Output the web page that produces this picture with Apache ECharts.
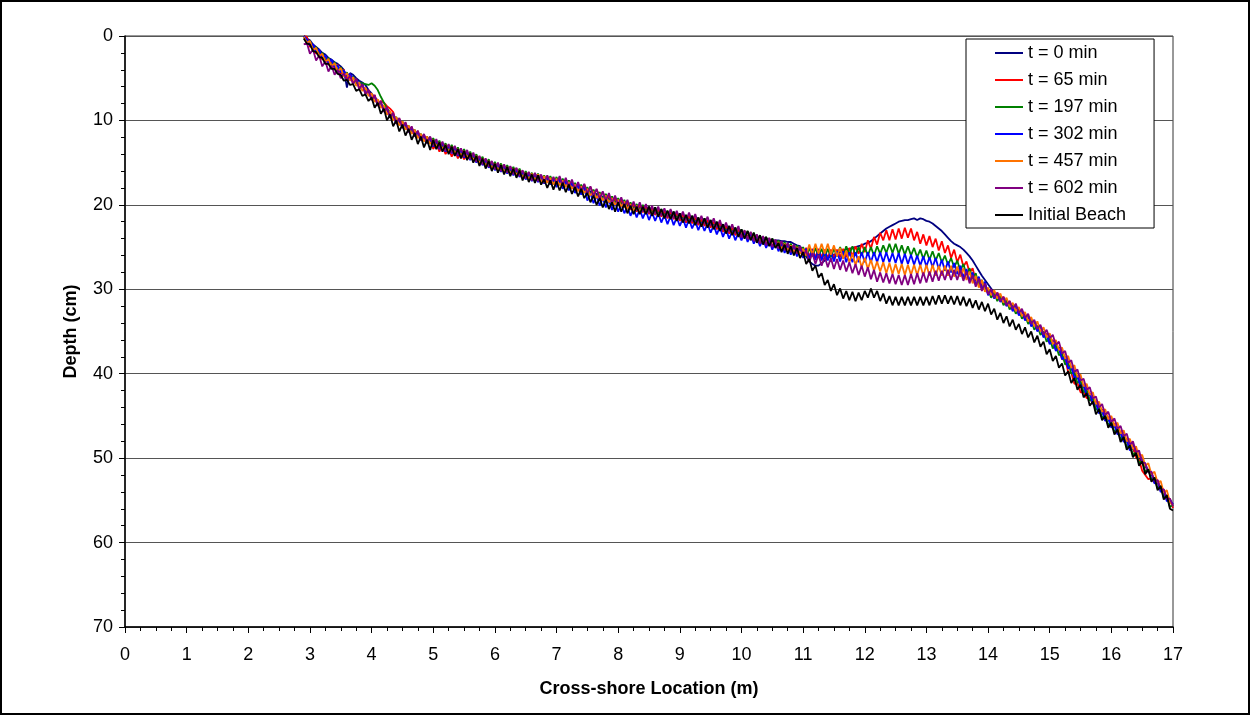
<!DOCTYPE html>
<html>
<head>
<meta charset="utf-8">
<script src="https://cdn.jsdelivr.net/npm/echarts@6/dist/echarts.min.js"></script>
<style>
  html, body { margin: 0; padding: 0; background: #fff; }
  #chart { position: absolute; left: 0; top: 0; width: 1250px; height: 715px; }
  #frame { position: absolute; left: 0; top: 0; width: 1250px; height: 715px; box-sizing: border-box; border: 2px solid #000; pointer-events: none; }
</style>
</head>
<body>
<div id="chart"></div>
<div id="frame"></div>
<script>
// Cross-shore survey stations: profiles sampled every 0.05 m from 2.90 m to 17.00 m
const firstStation = 2.90;
const stationSpacing = 0.05;
const stationCount = 283;

const seriesNames = ['t = 0 min', 't = 65 min', 't = 197 min', 't = 302 min', 't = 457 min', 't = 602 min', 'Initial Beach'];
const seriesColors = ['#000080', '#ff0000', '#008000', '#0000ff', '#ff7300', '#800080', '#000000'];

const xTicks = [0, 17, 1];   // min, max, step (m)
const yTicks = [0, 70, 10];  // min, max, step (cm)

// Depth (cm) at each station. Rows: 2.90-3.95, then one row per metre, 11.00, bar zone 11.05-13.95, 14.00-17.00
const depthT0 = [
  0.0, 0.3, 0.5, 1.0, 1.3, 1.6, 2.0, 2.2, 2.6, 2.8, 3.1, 3.3, 3.6, 4.0, 6.1, 4.4, 4.6, 5.0, 5.3, 5.5, 5.8, 6.4,
  6.8, 7.3, 7.6, 8.1, 8.4, 8.8, 9.2, 9.5, 9.9, 10.1, 10.5, 10.6, 11.0, 11.1, 11.5, 11.6, 12.0, 12.0, 12.3, 12.3,
  12.7, 12.6, 13.0, 12.9, 13.3, 13.2, 13.5, 13.4, 13.8, 13.7, 14.0, 13.9, 14.3, 14.2, 14.6, 14.6, 14.9, 14.9, 15.2, 15.2,
  15.5, 15.4, 15.7, 15.6, 15.9, 15.8, 16.1, 16.0, 16.3, 16.3, 16.6, 16.5, 16.8, 16.6, 16.9, 16.8, 17.1, 16.9, 17.2, 17.1,
  17.3, 17.2, 17.5, 17.4, 17.7, 17.6, 18.0, 17.9, 18.2, 18.1, 18.5, 18.4, 18.8, 18.7, 19.1, 19.0, 19.3, 19.2, 19.6, 19.5,
  19.8, 19.7, 20.0, 20.0, 20.3, 20.2, 20.5, 20.3, 20.6, 20.5, 20.8, 20.7, 20.9, 20.8, 21.1, 21.0, 21.3, 21.1, 21.4, 21.3,
  21.6, 21.5, 21.8, 21.6, 21.9, 21.8, 22.1, 22.0, 22.2, 22.1, 22.4, 22.3, 22.6, 22.5, 22.9, 22.8, 23.1, 23.0, 23.3, 23.2,
  23.5, 23.4, 23.6, 23.6, 23.8, 23.8, 23.9, 23.9, 24.0, 24.1, 24.2, 24.2, 24.2, 24.3, 24.3, 24.4, 24.4, 24.6, 24.8, 24.9,
  25.5,
  26.1, 26.7, 27.0, 27.2, 27.2, 26.9, 26.6, 26.3, 26.1, 25.9, 25.8, 25.6, 25.4, 25.3, 25.2, 25.1, 25.0, 24.9, 24.8, 24.6,
  24.5, 24.3, 24.0, 23.7, 23.4, 23.1, 22.8, 22.6, 22.4, 22.2, 22.0, 21.9, 21.8, 21.8, 21.7, 21.6, 21.8, 21.6, 21.7, 21.9,
  22.0, 22.2, 22.5, 22.8, 23.1, 23.5, 23.9, 24.3, 24.6, 24.8, 25.0, 25.3, 25.7, 26.1, 26.6, 27.2, 27.8, 28.4, 28.9,
  29.4, 29.9, 30.4, 30.7, 31.1, 31.2, 31.6, 31.7, 32.2, 32.2, 32.7, 32.8, 33.3, 33.4, 34.0, 34.1, 34.6, 34.7, 35.3, 35.5,
  36.1, 36.3, 36.9, 37.1, 37.9, 38.2, 39.0, 39.3, 40.1, 40.4, 41.1, 41.5, 42.2, 42.5, 43.2, 43.6, 44.3, 44.5, 45.2, 45.4,
  46.0, 46.2, 46.8, 47.1, 47.7, 48.0, 48.7, 48.9, 49.6, 49.9, 50.6, 50.9, 51.6, 51.9, 52.6, 52.9, 53.6, 54.0, 54.7, 55.1,
  55.5
];

const depthT65 = [
  0.0, 0.1, 1.3, 1.0, 2.1, 1.7, 2.8, 2.4, 3.4, 2.9, 3.9, 3.4, 4.5, 4.0, 5.1, 4.5, 5.6, 5.1, 6.2, 5.7, 6.8, 6.4,
  7.5, 7.0, 8.2, 7.7, 7.9, 8.3, 8.6, 9.0, 10.3, 9.8, 10.8, 10.3, 11.3, 10.8, 11.8, 11.3, 12.3, 11.7, 12.6, 12.0,
  13.4, 12.7, 13.7, 13.0, 14.0, 13.3, 14.3, 13.5, 14.5, 13.8, 14.6, 14.0, 14.6, 14.0, 14.9, 14.3, 15.2, 14.6, 15.5, 14.9,
  15.8, 15.1, 16.0, 15.3, 16.2, 15.5, 16.4, 15.7, 16.6, 16.0, 16.9, 16.2, 17.1, 16.3, 17.2, 16.5, 17.4, 16.6, 17.5, 16.8,
  17.6, 16.9, 17.8, 17.1, 18.0, 17.3, 18.3, 17.6, 18.4, 17.6, 18.4, 17.9, 18.7, 18.2, 19.0, 18.5, 19.4, 18.9, 19.9, 19.2,
  20.1, 19.4, 20.3, 19.7, 20.6, 19.9, 20.8, 20.0, 20.9, 20.2, 21.1, 20.4, 21.2, 20.5, 21.4, 20.7, 21.6, 20.8, 21.7, 21.0,
  21.9, 21.1, 22.1, 21.3, 22.2, 21.5, 22.4, 21.7, 22.5, 21.8, 22.7, 22.0, 22.9, 22.2, 23.2, 22.5, 23.4, 22.7, 23.6, 22.9,
  23.8, 23.1, 24.0, 23.3, 24.2, 23.6, 24.5, 23.8, 24.7, 24.0, 24.9, 24.2, 25.1, 24.4, 25.3, 24.6, 25.5, 24.8, 25.7, 25.0,
  25.9,
  25.1, 26.1, 25.2, 26.2, 25.2, 26.2, 25.3, 26.3, 25.3, 26.3, 25.3, 26.2, 25.2, 26.2, 25.1, 26.1, 24.9, 25.8, 24.6, 25.6,
  24.2, 25.2, 23.8, 24.7, 23.3, 24.2, 23.0, 24.2, 22.9, 24.1, 22.8, 24.0, 22.7, 23.9, 22.8, 24.2, 23.2, 24.6, 23.5, 24.8,
  23.7, 25.0, 24.0, 25.4, 24.3, 25.7, 24.8, 26.3, 25.3, 26.8, 25.9, 27.3, 26.7, 28.0, 27.5, 29.0, 28.6, 29.7, 29.3,
  30.6, 30.0, 31.0, 30.4, 31.4, 30.9, 31.9, 31.4, 32.5, 31.9, 33.0, 32.5, 33.6, 33.1, 34.3, 33.8, 34.9, 34.4, 35.6, 35.2,
  36.4, 36.0, 37.2, 36.9, 38.3, 38.2, 39.8, 39.9, 41.2, 41.1, 42.2, 42.2, 42.9, 42.9, 43.5, 43.3, 44.6, 44.2, 45.5, 45.1,
  46.3, 45.9, 47.1, 46.8, 48.0, 47.7, 49.0, 48.6, 49.9, 50.2, 51.5, 52.0, 52.5, 52.4, 52.9, 52.6, 53.9, 53.7, 55.0, 54.8,
  55.9
];

const depthT197 = [
  0.0, 0.7, 0.6, 1.6, 1.3, 2.3, 2.0, 3.0, 2.6, 3.5, 3.1, 4.1, 3.7, 4.7, 4.3, 5.2, 4.8, 5.6, 5.5, 5.6, 5.7, 5.8,
  5.6, 5.9, 6.4, 7.2, 7.9, 8.6, 9.0, 9.9, 9.6, 10.5, 10.1, 11.0, 10.6, 11.5, 11.1, 12.0, 11.6, 12.4, 11.9, 12.7,
  12.1, 13.0, 12.4, 13.3, 12.7, 13.6, 12.9, 13.8, 13.2, 14.1, 13.4, 14.3, 13.7, 14.6, 14.0, 15.0, 14.3, 15.3, 14.6, 15.6,
  14.9, 15.8, 15.1, 16.0, 15.3, 16.2, 15.5, 16.4, 15.7, 16.7, 16.0, 16.9, 16.2, 17.0, 16.3, 17.2, 16.5, 17.3, 16.6, 17.5,
  16.7, 17.6, 16.9, 17.8, 17.1, 18.0, 17.4, 18.3, 17.6, 18.5, 17.9, 18.8, 18.2, 19.1, 18.5, 19.4, 18.7, 19.6, 19.0, 19.9,
  19.2, 20.1, 19.4, 20.4, 19.7, 20.6, 19.9, 20.7, 20.0, 20.9, 20.2, 21.1, 20.3, 21.2, 20.5, 21.4, 20.7, 21.5, 20.8, 21.7,
  21.0, 21.9, 21.2, 22.0, 21.3, 22.2, 21.5, 22.4, 21.6, 22.5, 21.8, 22.7, 22.0, 22.9, 22.3, 23.2, 22.5, 23.4, 22.7, 23.6,
  22.9, 23.8, 23.1, 24.0, 23.3, 24.3, 23.6, 24.5, 23.8, 24.7, 24.0, 24.9, 24.2, 25.1, 24.4, 25.3, 24.6, 25.5, 24.8, 25.7,
  25.0,
  26.1, 25.1, 26.1, 25.1, 26.1, 25.2, 26.2, 25.2, 26.2, 25.2, 26.1, 25.0, 26.0, 24.9, 25.9, 24.9, 26.0, 25.0, 26.0, 25.0,
  26.0, 25.0, 26.0, 24.9, 25.8, 24.8, 25.7, 24.6, 25.7, 24.6, 25.8, 24.8, 25.9, 24.9, 26.0, 25.1, 26.2, 25.3, 26.4, 25.4,
  26.5, 25.5, 26.6, 25.7, 26.8, 26.0, 27.1, 26.3, 27.4, 26.6, 27.8, 27.0, 28.3, 27.5, 28.8, 28.1, 29.5, 28.9, 30.0,
  30.0, 31.0, 30.4, 31.4, 30.8, 31.9, 31.3, 32.4, 31.9, 32.9, 32.4, 33.5, 33.0, 34.1, 33.7, 34.8, 34.3, 35.4, 35.0, 36.2,
  35.8, 37.0, 36.6, 37.8, 37.6, 38.9, 38.7, 40.0, 39.8, 41.1, 40.8, 42.2, 41.9, 43.2, 42.9, 44.3, 44.0, 45.2, 44.9, 46.1,
  45.7, 46.9, 46.5, 47.8, 47.4, 48.7, 48.4, 49.6, 49.3, 50.6, 50.3, 51.6, 51.3, 52.6, 52.3, 53.6, 53.3, 54.7, 54.4, 55.8,
  55.5
];

const depthT302 = [
  0.0, 0.4, 1.1, 1.0, 1.9, 1.6, 2.6, 2.3, 3.2, 2.8, 3.7, 3.5, 4.3, 4.1, 4.7, 4.5, 5.1, 5.2, 5.6, 5.8, 6.5, 6.6,
  7.4, 7.2, 8.2, 7.9, 8.9, 8.6, 9.6, 9.3, 10.4, 9.9, 10.9, 10.4, 11.4, 10.9, 11.9, 11.4, 12.4, 11.8, 12.7, 12.1,
  13.1, 12.4, 13.4, 12.7, 13.7, 13.0, 13.9, 13.2, 14.2, 13.5, 14.4, 13.7, 14.7, 14.0, 15.0, 14.4, 15.3, 14.7, 15.6, 15.0,
  15.9, 15.2, 16.1, 15.4, 16.3, 15.6, 16.5, 15.8, 16.7, 16.1, 17.0, 16.3, 17.2, 16.4, 17.3, 16.6, 17.5, 16.7, 17.6, 16.9,
  17.9, 17.0, 18.1, 17.2, 18.3, 17.4, 18.6, 17.7, 18.8, 17.9, 19.5, 18.6, 19.8, 18.9, 20.1, 19.2, 20.3, 19.4, 20.6, 19.7,
  20.8, 19.9, 21.0, 20.2, 21.3, 20.4, 21.5, 20.5, 21.6, 20.7, 21.8, 20.9, 21.9, 21.0, 22.1, 21.2, 22.3, 21.3, 22.4, 21.5,
  22.5, 21.6, 22.7, 21.7, 22.8, 21.9, 23.0, 22.1, 23.1, 22.2, 23.3, 22.4, 23.5, 22.6, 23.8, 22.9, 24.0, 23.1, 24.2, 23.3,
  24.2, 23.3, 24.4, 23.5, 24.6, 23.8, 24.9, 24.0, 25.1, 24.2, 25.3, 24.4, 25.5, 24.6, 25.7, 24.8, 25.9, 25.0, 26.1, 25.2,
  26.3,
  25.2, 26.4, 25.3, 26.5, 25.3, 26.6, 25.4, 26.6, 25.5, 26.7, 25.5, 26.7, 25.5, 26.8, 25.6, 26.8, 25.6, 26.8, 25.6, 26.8,
  25.6, 26.8, 25.6, 26.8, 25.6, 26.8, 25.6, 26.8, 25.7, 26.9, 25.7, 27.0, 25.8, 27.0, 25.9, 27.1, 26.0, 27.2, 26.1, 27.3,
  26.2, 27.4, 26.3, 27.6, 26.5, 27.8, 26.7, 28.0, 26.9, 28.2, 27.2, 28.6, 27.6, 29.0, 28.0, 29.5, 28.5, 30.0, 29.1,
  30.7, 30.1, 31.1, 30.5, 31.5, 31.0, 32.0, 31.5, 32.6, 32.0, 33.1, 32.6, 33.7, 33.2, 34.4, 33.9, 35.0, 34.5, 35.7, 35.3,
  36.5, 36.1, 37.3, 36.9, 38.3, 38.0, 39.4, 39.1, 40.5, 40.2, 41.5, 41.3, 42.6, 42.3, 43.6, 43.4, 44.7, 44.3, 45.6, 45.2,
  46.4, 46.0, 47.2, 46.9, 48.1, 47.8, 49.1, 48.3, 49.1, 49.6, 50.2, 50.7, 51.6, 51.7, 53.0, 52.7, 54.0, 53.8, 55.1, 54.9,
  55.5
];

const depthT457 = [
  0.1, 0.8, 0.6, 1.7, 1.4, 2.4, 2.1, 3.1, 2.7, 3.6, 3.2, 4.2, 3.8, 4.8, 4.4, 5.3, 4.9, 5.9, 5.5, 6.5, 6.1, 7.1,
  6.8, 7.8, 7.5, 8.5, 8.2, 9.3, 8.9, 10.0, 9.6, 10.6, 10.1, 11.1, 10.6, 11.6, 11.1, 12.1, 11.6, 12.5, 11.9, 12.8,
  12.3, 13.1, 12.6, 13.4, 12.9, 13.7, 13.1, 13.9, 13.4, 14.2, 13.6, 14.4, 13.9, 14.7, 14.2, 15.1, 14.5, 15.4, 14.8, 15.7,
  15.1, 15.9, 15.3, 16.1, 15.5, 16.3, 15.7, 16.5, 15.9, 16.8, 16.2, 17.0, 16.3, 17.1, 16.4, 17.3, 16.6, 17.4, 16.8, 17.6,
  16.9, 17.7, 17.1, 17.9, 17.3, 18.1, 17.6, 18.4, 17.8, 18.6, 18.1, 18.9, 18.4, 19.2, 18.7, 19.5, 18.9, 19.7, 19.2, 20.0,
  19.4, 20.2, 19.6, 20.5, 19.9, 20.7, 20.1, 20.8, 20.2, 21.0, 20.4, 21.2, 20.5, 21.3, 20.7, 21.5, 20.9, 21.6, 21.0, 21.8,
  21.2, 22.0, 21.4, 22.1, 21.5, 22.3, 21.7, 22.5, 21.8, 22.6, 22.0, 22.8, 22.2, 23.0, 22.5, 23.3, 22.7, 23.5, 22.9, 23.7,
  23.1, 23.9, 23.3, 24.1, 23.5, 24.4, 23.8, 24.6, 24.0, 24.8, 24.2, 25.0, 24.4, 25.2, 24.6, 25.4, 24.8, 25.6, 25.0, 25.8,
  25.2,
  26.0, 24.7, 25.9, 24.6, 25.8, 24.6, 25.8, 24.6, 25.9, 24.8, 26.1, 25.1, 26.4, 25.4, 26.8, 25.8, 27.1, 26.1, 27.4, 26.3,
  27.6, 26.5, 27.8, 26.7, 27.9, 26.8, 28.1, 26.9, 28.2, 27.0, 28.2, 27.0, 28.3, 27.1, 28.3, 27.1, 28.3, 27.1, 28.4, 27.1,
  28.4, 27.1, 28.4, 27.2, 28.4, 27.2, 28.4, 27.2, 28.5, 27.3, 28.5, 27.5, 28.9, 27.9, 29.3, 28.4, 29.8, 28.9, 30.3,
  29.8, 30.7, 30.1, 31.1, 30.5, 31.6, 31.0, 32.1, 31.6, 32.6, 32.1, 33.2, 32.7, 33.8, 33.3, 34.4, 33.8, 35.0, 34.5, 35.7,
  35.2, 36.5, 36.0, 37.2, 36.9, 38.2, 37.9, 39.3, 39.0, 40.4, 40.1, 41.5, 41.2, 42.5, 42.2, 43.6, 43.3, 44.5, 44.2, 45.4,
  45.0, 46.2, 45.8, 47.1, 46.7, 48.0, 47.7, 48.9, 48.6, 49.9, 49.6, 50.9, 50.6, 51.9, 51.6, 52.9, 52.7, 54.1, 53.8, 55.2,
  55.6
];

const depthT602 = [
  1.0, 0.8, 2.1, 1.6, 2.9, 2.3, 3.6, 3.0, 4.2, 3.5, 4.6, 4.0, 5.0, 4.4, 5.3, 4.7, 5.7, 5.1, 6.3, 5.7, 6.9, 6.4,
  7.6, 7.0, 8.3, 7.7, 9.0, 8.4, 9.7, 9.1, 10.4, 9.7, 10.9, 10.2, 11.4, 10.7, 11.9, 11.2, 12.4, 11.6, 12.7, 11.9,
  13.0, 12.2, 13.3, 12.5, 13.6, 12.8, 13.8, 13.0, 14.1, 13.3, 14.3, 13.5, 14.6, 13.8, 14.9, 14.2, 15.2, 14.5, 15.5, 14.8,
  15.8, 15.0, 16.0, 15.2, 16.2, 15.4, 16.4, 15.6, 16.6, 15.9, 16.9, 16.1, 17.1, 16.2, 17.2, 16.4, 17.4, 16.5, 17.5, 16.7,
  17.5, 16.6, 17.7, 16.8, 17.9, 17.0, 18.2, 17.3, 18.4, 17.5, 18.7, 17.8, 19.0, 18.1, 19.3, 18.4, 19.5, 18.6, 19.8, 18.9,
  20.0, 19.1, 20.2, 19.4, 20.5, 19.6, 20.7, 19.7, 20.8, 19.9, 21.0, 20.1, 21.1, 20.2, 21.3, 20.4, 21.5, 20.5, 21.6, 20.7,
  21.7, 20.8, 21.9, 20.9, 22.0, 21.1, 22.2, 21.3, 22.3, 21.4, 22.5, 21.6, 22.7, 21.8, 23.0, 22.1, 23.2, 22.3, 23.4, 22.5,
  23.9, 23.0, 24.1, 23.2, 24.3, 23.5, 24.6, 23.7, 24.8, 23.9, 25.0, 24.1, 25.2, 24.3, 25.4, 24.5, 25.6, 24.7, 25.8, 24.9,
  26.0,
  25.4, 26.8, 25.7, 27.0, 25.9, 27.2, 26.1, 27.4, 26.3, 27.6, 26.4, 27.7, 26.6, 27.9, 26.8, 28.1, 27.0, 28.3, 27.2, 28.5,
  27.4, 28.8, 27.7, 29.1, 28.0, 29.2, 28.1, 29.3, 28.2, 29.4, 28.3, 29.5, 28.3, 29.5, 28.2, 29.4, 28.1, 29.3, 28.0, 29.2,
  27.9, 29.1, 27.8, 29.0, 27.8, 28.9, 27.7, 28.9, 27.7, 28.9, 27.7, 29.0, 27.9, 29.3, 28.3, 29.7, 28.7, 30.2, 29.3,
  30.6, 30.0, 31.0, 30.4, 31.4, 30.9, 31.9, 31.4, 32.3, 31.7, 32.8, 32.3, 33.4, 32.9, 34.1, 33.6, 34.7, 34.2, 35.4, 34.8,
  35.8, 35.4, 36.6, 36.2, 37.6, 37.3, 38.7, 38.4, 39.8, 39.5, 40.8, 40.6, 41.9, 41.6, 42.9, 42.7, 44.0, 43.6, 44.9, 44.5,
  45.7, 45.3, 46.5, 46.2, 47.4, 47.1, 48.4, 48.0, 49.3, 49.1, 50.5, 50.6, 51.7, 51.6, 52.7, 52.6, 53.7, 53.7, 54.8, 54.8,
  55.7
];

const depthInitial = [
  0.3, 0.9, 1.0, 1.8, 1.9, 2.5, 2.6, 3.3, 3.3, 3.9, 3.9, 4.5, 4.6, 5.3, 5.2, 5.8, 5.7, 6.5, 6.3, 7.1, 6.9, 7.7,
  7.3, 8.5, 7.9, 9.2, 8.6, 10.0, 9.3, 10.7, 10.0, 11.3, 10.5, 11.8, 11.0, 12.3, 11.5, 12.8, 11.9, 13.2, 12.3, 13.5,
  12.3, 13.4, 12.6, 13.7, 12.9, 14.0, 13.1, 14.2, 13.4, 14.5, 13.6, 14.7, 13.9, 15.0, 14.2, 15.4, 14.5, 15.7, 14.8, 16.0,
  15.1, 16.2, 15.3, 16.4, 15.5, 16.6, 15.7, 16.8, 15.9, 17.1, 16.2, 17.3, 16.4, 17.4, 16.5, 17.6, 17.0, 18.0, 17.1, 18.2,
  17.2, 18.3, 17.4, 18.5, 17.6, 18.7, 17.9, 19.0, 18.1, 19.2, 18.6, 19.7, 18.9, 20.0, 19.2, 20.3, 19.4, 20.5, 19.7, 20.8,
  19.7, 20.8, 19.9, 21.0, 20.1, 21.1, 20.2, 21.1, 20.2, 21.1, 20.2, 21.3, 20.3, 21.4, 20.5, 21.6, 20.7, 21.7, 20.8, 21.9,
  21.0, 22.1, 21.2, 22.2, 21.3, 22.4, 21.5, 22.6, 21.6, 22.7, 21.8, 22.9, 22.0, 23.1, 22.3, 23.4, 22.5, 23.6, 22.7, 23.8,
  22.9, 24.0, 23.1, 24.2, 23.3, 24.5, 23.6, 24.7, 23.8, 24.9, 24.0, 25.1, 24.5, 25.6, 24.7, 25.8, 24.9, 26.0, 25.1, 26.3,
  25.6,
  27.0, 26.4, 27.8, 27.2, 28.6, 28.1, 29.5, 28.9, 30.2, 29.4, 30.7, 29.9, 31.1, 30.2, 31.3, 30.3, 31.4, 30.4, 31.3, 30.2,
  31.0, 29.9, 31.0, 30.2, 31.4, 30.5, 31.7, 30.8, 31.9, 30.9, 31.9, 30.9, 31.9, 30.9, 31.9, 30.9, 31.9, 30.9, 31.9, 30.9,
  31.9, 30.8, 31.8, 30.7, 31.7, 30.7, 31.7, 30.8, 31.8, 30.8, 31.9, 30.9, 32.0, 31.1, 32.2, 31.3, 32.4, 31.5, 32.6,
  31.7, 33.0, 32.3, 33.6, 32.8, 34.0, 33.2, 34.4, 33.6, 34.8, 34.1, 35.3, 34.5, 35.7, 35.0, 36.3, 35.5, 36.8, 36.2, 37.7,
  37.1, 38.5, 37.9, 39.3, 38.8, 40.2, 39.7, 41.1, 40.5, 41.9, 41.3, 42.8, 42.3, 43.8, 43.3, 44.8, 44.2, 45.5, 45.0, 46.4,
  45.8, 47.2, 46.6, 48.1, 47.5, 49.0, 48.5, 49.9, 49.4, 50.9, 50.4, 51.9, 51.3, 52.8, 52.3, 53.8, 53.3, 54.9, 54.4, 56.0,
  56.2
];

const profiles = [depthT0, depthT65, depthT197, depthT302, depthT457, depthT602, depthInitial];

const FONT = "'Liberation Sans', Arial, Helvetica, sans-serif";

function toPoints(depths) {
  return depths.map((d, i) => [Math.round((firstStation + i * stationSpacing) * 100) / 100, d]);
}

const chart = echarts.init(document.getElementById('chart'), null, { renderer: 'canvas' });

chart.setOption({
  animation: false,
  backgroundColor: '#ffffff',
  textStyle: { fontFamily: FONT },
  grid: {
    left: 125, top: 36, width: 1048, height: 591,
    show: true, borderColor: '#333333', borderWidth: 1, backgroundColor: 'transparent'
  },
  legend: {
    orient: 'vertical',
    left: 966, top: 39,
    padding: [5, 28, 4, 29],
    icon: 'rect',
    itemWidth: 28, itemHeight: 2, itemGap: 9,
    backgroundColor: '#ffffff',
    borderColor: '#000000', borderWidth: 1, borderRadius: 0,
    textStyle: { fontFamily: FONT, fontSize: 18, color: '#000000' },
    data: seriesNames
  },
  xAxis: {
    type: 'value',
    min: xTicks[0], max: xTicks[1], interval: xTicks[2],
    name: 'Cross-shore Location (m)',
    nameLocation: 'middle', nameGap: 53,
    nameTextStyle: { fontFamily: FONT, fontSize: 18, fontWeight: 'bold', color: '#000000' },
    axisLine: { show: true, onZero: false, lineStyle: { color: '#000000', width: 1.5 } },
    axisTick: { show: true, length: 6, lineStyle: { color: '#000000', width: 1 } },
    minorTick: { show: true, splitNumber: 4, length: 4, lineStyle: { color: '#000000', width: 1 } },
    axisLabel: { margin: 19, fontFamily: FONT, fontSize: 18, color: '#000000' },
    splitLine: { show: false }
  },
  yAxis: {
    type: 'value',
    inverse: true,
    min: yTicks[0], max: yTicks[1], interval: yTicks[2],
    name: 'Depth (cm)',
    nameLocation: 'middle', nameGap: 45, nameRotate: 90,
    nameTextStyle: { fontFamily: FONT, fontSize: 18, fontWeight: 'bold', color: '#000000' },
    axisLine: { show: true, onZero: false, lineStyle: { color: '#000000', width: 1.5 } },
    axisTick: { show: true, length: 6, lineStyle: { color: '#000000', width: 1 } },
    minorTick: { show: true, splitNumber: 5, length: 4, lineStyle: { color: '#000000', width: 1 } },
    axisLabel: { margin: 12, fontFamily: FONT, fontSize: 18, color: '#000000' },
    splitLine: { show: true, lineStyle: { color: '#555555', width: 1 } }
  },
  series: profiles.map((depths, k) => ({
    name: seriesNames[k],
    type: 'line',
    data: toPoints(depths),
    symbol: 'none',
    showSymbol: false,
    silent: true,
    clip: true,
    color: seriesColors[k],
    lineStyle: { color: seriesColors[k], width: 1.8 }
  }))
});

profiles.forEach((p, k) => {
  if (p.length !== stationCount) {
    throw new Error(seriesNames[k] + ' has ' + p.length + ' stations');
  }
});
</script>
</body>
</html>
